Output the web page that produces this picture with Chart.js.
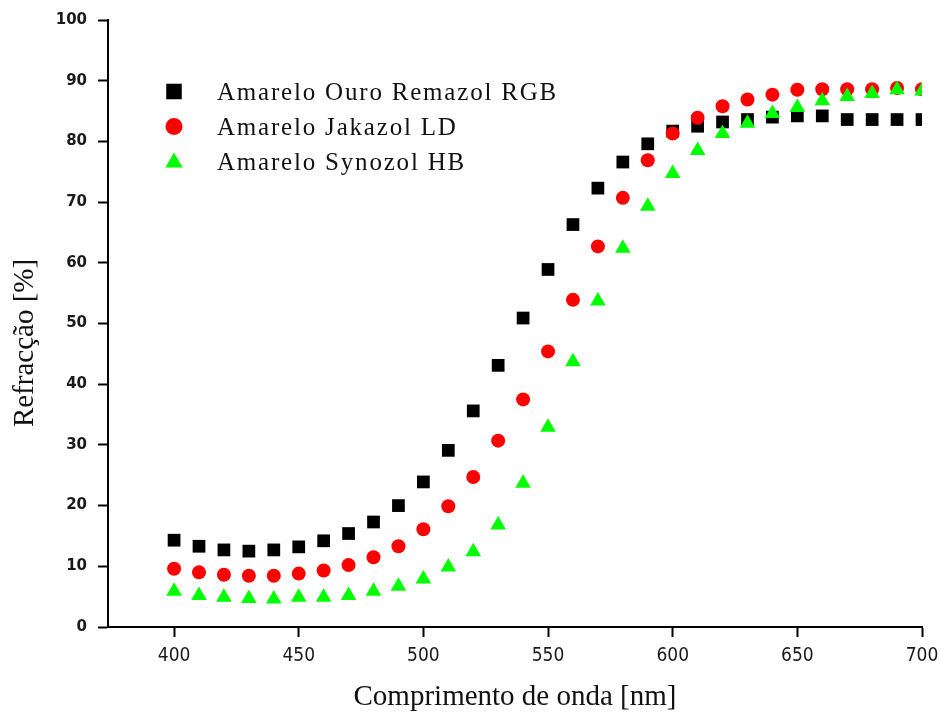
<!DOCTYPE html>
<html>
<head>
<meta charset="utf-8">
<script src="https://cdn.jsdelivr.net/npm/chart.js@4.4.1/dist/chart.umd.min.js"></script>
<style>
  html, body { margin: 0; padding: 0; background: #fff; }
</style>
</head>
<body>
<canvas id="myChart" width="941" height="715"></canvas>
<script>
// data
const wavelengths = [400, 410, 420, 430, 440, 450, 460, 470, 480, 490, 500,
  510, 520, 530, 540, 550, 560, 570, 580, 590, 600,
  610, 620, 630, 640, 650, 660, 670, 680, 690, 700];
const remazol = [14.3, 13.3, 12.7, 12.5, 12.7, 13.2, 14.2, 15.4, 17.3, 20.0, 23.9,
  29.1, 35.6, 43.1, 50.9, 58.9, 66.3, 72.3, 76.6, 79.6, 81.7,
  82.5, 83.2, 83.6, 84.0, 84.2, 84.2, 83.6, 83.6, 83.6, 83.6];
const jakazol = [9.6, 9.0, 8.6, 8.45, 8.45, 8.8, 9.3, 10.2, 11.5, 13.3, 16.1,
  19.9, 24.7, 30.7, 37.5, 45.4, 53.9, 62.7, 70.7, 76.9, 81.3,
  83.9, 85.8, 86.9, 87.7, 88.5, 88.6, 88.6, 88.6, 88.8, 88.6];
const synozol = [5.9, 5.2, 4.9, 4.7, 4.6, 4.9, 4.9, 5.2, 5.9, 6.7, 7.9,
  9.9, 12.4, 16.8, 23.7, 32.9, 43.7, 53.7, 62.4, 69.3, 74.7,
  78.5, 81.3, 83.0, 84.6, 85.6, 86.7, 87.4, 87.9, 88.5, 88.3];
const seriesNames = ['Amarelo Ouro Remazol RGB', 'Amarelo Jakazol LD', 'Amarelo Synozol HB'];
const xTicks = [400, 450, 500, 550, 600, 650, 700];

function toPoints(values) {
  return wavelengths.map((w, i) => ({x: w, y: values[i]}));
}

// legend drawn inside the plot + rotated y title
const legendRadius = [11, 8.5, 10];
const insideLegend = {
  id: 'insideLegend',
  afterDraw(chart) {
    const ctx = chart.ctx;
    ctx.save();
    chart.data.datasets.forEach((ds, i) => {
      const y = 91.5 + i * 35;
      const x = 174;
      const r = legendRadius[i];
      ctx.fillStyle = ds.pointBackgroundColor;
      ctx.beginPath();
      if (ds.pointStyle === 'rect') {
        const s = r * Math.SQRT1_2;
        ctx.rect(x - s, y - s, 2 * s, 2 * s);
      } else if (ds.pointStyle === 'circle') {
        ctx.arc(x, y, r, 0, Math.PI * 2);
      } else {
        ctx.moveTo(x, y - r * 0.9);
        ctx.lineTo(x + r * 0.866, y + r * 0.6);
        ctx.lineTo(x - r * 0.866, y + r * 0.6);
        ctx.closePath();
      }
      ctx.fill();
      ctx.fillStyle = '#111';
      ctx.font = '25px "Liberation Serif", "Times New Roman", serif';
      ctx.letterSpacing = '1.8px';
      ctx.textAlign = 'left';
      ctx.textBaseline = 'alphabetic';
      ctx.fillText(ds.label, 217, y + 8);
    });
    ctx.letterSpacing = '0px';
    // y axis title
    ctx.translate(25, 343);
    ctx.rotate(-Math.PI / 2);
    ctx.font = '29px "Liberation Serif", "Times New Roman", serif';
    ctx.textAlign = 'center';
    ctx.textBaseline = 'middle';
    ctx.fillStyle = '#111';
    ctx.fillText('Refracção [%]', 0, 0);
    ctx.restore();
  }
};

const datasets = [
  {
    label: seriesNames[0],
    data: toPoints(remazol),
    pointStyle: 'rect',
    pointRadius: 9,
    pointBackgroundColor: '#000000',
    order: 3
  },
  {
    label: seriesNames[1],
    data: toPoints(jakazol),
    pointStyle: 'circle',
    pointRadius: 7,
    pointBackgroundColor: '#ff0000',
    order: 2
  },
  {
    label: seriesNames[2],
    data: toPoints(synozol),
    pointStyle: 'triangle',
    pointRadius: 9,
    pointBackgroundColor: '#00ff00',
    order: 1
  }
];
datasets.forEach(ds => {
  ds.pointBorderWidth = 0;
  ds.pointBorderColor = ds.pointBackgroundColor;
  ds.pointHoverRadius = ds.pointRadius;
  ds.showLine = false;
  ds.clip = 0;
});

const config = {
  type: 'scatter',
  data: { datasets: datasets },
  options: {
    responsive: false,
    animation: false,
    layout: { padding: { top: 20, right: 19, left: 0, bottom: 0 } },
    plugins: {
      legend: { display: false },
      tooltip: { enabled: false }
    },
    scales: {
      x: {
        type: 'linear',
        min: 373.5,
        max: 700,
        afterBuildTicks: s => { s.ticks = xTicks.map(v => ({value: v})); },
        afterFit: s => { s.height = 88; s.paddingLeft = 0; s.paddingRight = 0; },
        grid: { drawOnChartArea: false, color: '#000', tickLength: 10, tickWidth: 2 },
        border: { color: '#000', width: 2 },
        ticks: {
          color: '#1a1a1a',
          padding: 8,
          maxRotation: 0,
          autoSkip: false,
          font: { family: '"DejaVu Sans Condensed", "Liberation Sans Narrow", "DejaVu Sans", sans-serif', size: 19 }
        },
        title: {
          display: true,
          text: 'Comprimento de onda [nm]',
          color: '#111',
          padding: { top: 0, bottom: 0 },
          font: { family: '"Liberation Serif", "Times New Roman", serif', size: 29 }
        }
      },
      y: {
        min: 0,
        max: 100,
        afterFit: s => { s.width = 108; s.paddingTop = 0; s.paddingBottom = 0; },
        grid: { drawOnChartArea: false, color: '#000', tickLength: 10, tickWidth: 2 },
        border: { color: '#000', width: 2 },
        ticks: {
          stepSize: 10,
          color: '#1a1a1a',
          padding: 11,
          font: { family: '"DejaVu Sans", Verdana, sans-serif', size: 15, weight: 'bold' }
        }
      }
    }
  },
  plugins: [insideLegend]
};

// render
var myChart = new Chart(document.getElementById('myChart'), config);
</script>
</body>
</html>
